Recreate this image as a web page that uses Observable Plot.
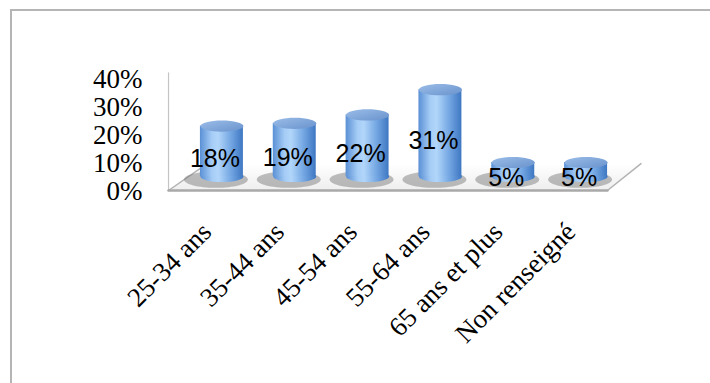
<!DOCTYPE html>
<html>
<head>
<meta charset="utf-8">
<script src="https://cdn.jsdelivr.net/npm/d3@7"></script>
<script src="https://cdn.jsdelivr.net/npm/@observablehq/plot@0.6"></script>
<style>
  html, body { margin: 0; padding: 0; background: #fff; }
  #wrap { position: relative; width: 710px; height: 383px; overflow: hidden; }
  #frame { position: absolute; left: 10px; top: 9px; width: 710px; height: 383px;
           border-top: 2px solid #b5b5b5; border-left: 2px solid #b5b5b5; }
  #chart { position: absolute; left: 0; top: 0; }
</style>
</head>
<body>
<div id="wrap"><div id="frame"></div><div id="chart"></div></div>
<script>
// ---- data ----
const categories = ["25-34 ans", "35-44 ans", "45-54 ans", "55-64 ans", "65 ans et plus", "Non renseigné"];
const values = [18, 19, 22, 31, 5, 5];
const yTicks = [0, 10, 20, 30, 40];

const rows = categories.map((c, i) => ({cat: c, i, v: values[i]}));

// ---- 3D look (layout, not data) ----
const halfW = 0.295;            // half cylinder width in x units
const floorGeom = {left: -0.733, right: 5.294, depth: 0.46, front: -5, back: 4.6, wallTop: 37};
const floorPoly = [
  {x: floorGeom.left, y: floorGeom.front},
  {x: floorGeom.right, y: floorGeom.front},
  {x: floorGeom.right + floorGeom.depth, y: floorGeom.back},
  {x: floorGeom.left + floorGeom.depth + 0.07, y: floorGeom.back},
  {x: floorGeom.left, y: floorGeom.front}
];
const frontEdge = [floorPoly[0], floorPoly[1]];
const rightEdge = [floorPoly[1], floorPoly[2]];
const leftEdge = [floorPoly[0], floorPoly[3]];
const wallEdge = [{x: floorGeom.left, y: floorGeom.front}, {x: floorGeom.left, y: floorGeom.wallTop}];

const ellipse = {
  draw(ctx, size) {
    const rx = Math.sqrt(size / Math.PI), ry = rx * 0.26, k = 0.5523;
    ctx.moveTo(rx, 0);
    ctx.bezierCurveTo(rx, ry * k, rx * k, ry, 0, ry);
    ctx.bezierCurveTo(-rx * k, ry, -rx, ry * k, -rx, 0);
    ctx.bezierCurveTo(-rx, -ry * k, -rx * k, -ry, 0, -ry);
    ctx.bezierCurveTo(rx * k, -ry, rx, -ry * k, rx, 0);
    ctx.closePath();
  }
};

const serif = "'Liberation Serif', 'DejaVu Serif', serif";
const sans = "'Liberation Sans', 'DejaVu Sans', sans-serif";

const chart = Plot.plot({
  width: 710,
  height: 383,
  marginLeft: 185,
  marginRight: 88,
  marginTop: 64,
  marginBottom: 207,
  style: {background: "transparent", overflow: "visible"},
  x: {type: "linear", domain: [-0.5, 5.5], axis: null},
  y: {type: "linear", domain: [0, 40], axis: null},
  marks: [
    // floor
    Plot.line(floorPoly, {x: "x", y: "y", fill: "url(#floorGrad)", stroke: "none", curve: "linear"}),
    Plot.line(wallEdge, {x: "x", y: "y", stroke: "#c4c4c4", strokeWidth: 1.2}),
    Plot.line(leftEdge, {x: "x", y: "y", stroke: "#b3b3b3", strokeWidth: 1.5}),
    Plot.line(rightEdge, {x: "x", y: "y", stroke: "#b3b3b3", strokeWidth: 1.5}),
    Plot.line(frontEdge, {x: "x", y: "y", stroke: "#a9a9a9", strokeWidth: 2.5}),
    // shadows
    Plot.dot(rows, {x: "i", y: () => 0, r: 32, symbol: ellipse, fill: "#707070", fillOpacity: 0.45, stroke: "none", dx: -6, dy: 3, ariaLabel: "shadow"}),
    // cylinder bottom, body, top
    Plot.dot(rows, {x: "i", y: () => 0, r: 21.5, symbol: ellipse, fill: "url(#cylGrad)", stroke: "none"}),
    Plot.rect(rows, {x1: d => d.i - halfW, x2: d => d.i + halfW, y1: () => 0, y2: "v", fill: "url(#cylGrad)", stroke: "none"}),
    Plot.dot(rows, {x: "i", y: "v", r: 21.5, symbol: ellipse, fill: "url(#topGrad)", stroke: "none"}),
    // y tick labels
    Plot.text(yTicks, {y: d => d, text: d => d + "%", frameAnchor: "left", textAnchor: "end", dx: -43, dy: 15,
      fontSize: 27, fontFamily: serif, fill: "#000"}),
    // data labels
    Plot.text(rows, {x: "i", y: d => d.v / 2, text: d => d.v + "%", dx: -7, dy: 8,
      fontSize: 25, fontFamily: sans, fill: "#000"}),
    // category labels
    Plot.text(rows, {x: "i", frameAnchor: "bottom", text: "cat", rotate: -45, textAnchor: "end",
      dx: -9, dy: 57, fontSize: 27, fontFamily: serif, fill: "#000"})
  ]
});

const svg = d3.select(chart);
const defs = svg.insert("defs", ":first-child");
const cylG = defs.append("linearGradient").attr("id", "cylGrad").attr("x1", 0).attr("x2", 1).attr("y1", 0).attr("y2", 0);
[["0%", "#5a90d5"], ["28%", "#a6cdf6"], ["42%", "#b2d6fa"], ["72%", "#73a6e2"], ["100%", "#3e77c2"]]
  .forEach(([o, c]) => cylG.append("stop").attr("offset", o).attr("stop-color", c));
const topG = defs.append("linearGradient").attr("id", "topGrad").attr("x1", 0).attr("x2", 1).attr("y1", 0).attr("y2", 1);
[["0%", "#9abde8"], ["100%", "#6a93cd"]]
  .forEach(([o, c]) => topG.append("stop").attr("offset", o).attr("stop-color", c));
const floorG = defs.append("linearGradient").attr("id", "floorGrad").attr("x1", 0).attr("x2", 0).attr("y1", 0).attr("y2", 1);
[["0%", "#ffffff"], ["100%", "#eeeeee"]]
  .forEach(([o, c]) => floorG.append("stop").attr("offset", o).attr("stop-color", c));
const blurF = defs.append("filter").attr("id", "blur").attr("x", "-50%").attr("y", "-50%").attr("width", "200%").attr("height", "200%");
blurF.append("feGaussianBlur").attr("stdDeviation", 4);
svg.select('g[aria-label="shadow"]').attr("filter", "url(#blur)");

document.getElementById("chart").appendChild(chart);
</script>
</body>
</html>
